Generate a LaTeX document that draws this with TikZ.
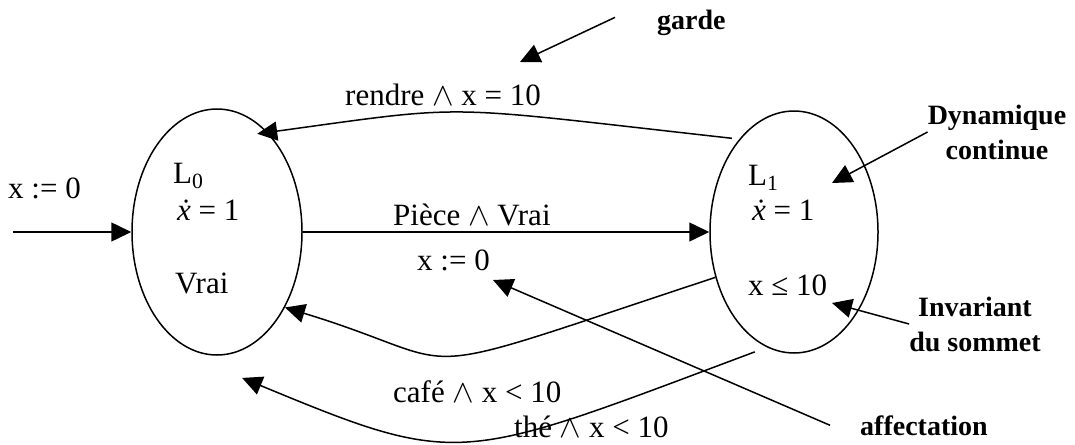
\documentclass[tikz,border=0pt]{standalone}
\usepackage{fontspec}
\setmainfont{Liberation Serif}
\usetikzlibrary{shapes.geometric,arrows.meta}
\newcommand{\et}{\scalebox{1.3}{$\wedge$}}
\newcommand{\xdot}{\textit{\.{x}}}

\begin{document}
\begin{tikzpicture}[
  x=1pt, y=-1pt,
  lieu/.style={draw, ellipse, line width=1.5pt, minimum width=170pt,
               minimum height=246pt, inner sep=0pt},
  txt/.style={font=\fontsize{31}{36}\selectfont, inner sep=0pt, anchor=base west},
  note/.style={font=\fontsize{28}{35}\selectfont\bfseries, inner sep=0pt, align=center},
  arr/.style={-{Triangle[length=20pt,width=19pt]}, line width=1.5pt}
]
\useasboundingbox (0,0) rectangle (1075,444);

% the two locations
\node[lieu] (L0) at (217,232) {};
\node[lieu, minimum width=168pt, minimum height=242pt] (L1) at (794,232) {};

\node[txt] (nom0) at (173,183) {L\textsubscript{0}};
\node[txt] (dyn0) at (177,220) {\xdot\ =\ 1};
\node[txt] (inv0) at (175,293) {Vrai};
\node[txt] (nom1) at (748,185) {L\textsubscript{1}};
\node[txt] (dyn1) at (752,220) {\xdot\ =\ 1};
\node[txt] (inv1) at (748,295) {x ≤ 10};

% transitions
\coordinate (init) at (13,232);
\node[txt] (reset0) at (8,198) {x := 0};
\draw[arr] (init) -- (L0.west);

\draw[arr] (L0.east) -- (L1.west);
\node[txt] (piece) at (393,225) {Pièce \et{} Vrai};
\node[txt] (reset1) at (417,270) {x := 0};

\draw[arr] ([xshift=-8pt]L1.120) .. controls (433,105) and (475,104) .. ([xshift=-12pt]L0.62);
\node[txt] (rendre) at (345,105) {rendre \et{} x = 10};

\draw[arr] (L1.210) .. controls (386,386) and (480,367) .. (L0.-48);
\node[txt] (cafe) at (393,402) {café \et{} x < 10};

\draw[arr] ([yshift=-12pt]L1.250) .. controls (458,463) and (462,469) .. ([shift={(4pt,-26pt)}]L0.-80);
\node[txt] (the) at (514,437) {thé \et{} x < 10};

% annotations
\node[txt, font=\fontsize{28}{35}\selectfont\bfseries] (garde) at (657,30) {garde};
\coordinate (gardeTip) at (520,62);
\draw[arr] ([shift={(-42pt,6pt)}]garde.west) -- (gardeTip);

\node[note] (dynam) at (997,132) {Dynamique\\continue};
\coordinate (dynamTip) at (832,183);
\draw[arr] (dynam.west) -- (dynamTip);

\node[note] (invar) at (975,324) {Invariant\\du sommet};
\coordinate (invarTip) at (832,303);
\draw[arr] (invar.west) -- (invarTip);

\node[txt, font=\fontsize{28}{35}\selectfont\bfseries] (affect) at (860,435) {affectation};
\coordinate (affectTip) at (493,280);
\draw[arr] ([xshift=-30pt]affect.west) -- (affectTip);
\end{tikzpicture}
\end{document}
